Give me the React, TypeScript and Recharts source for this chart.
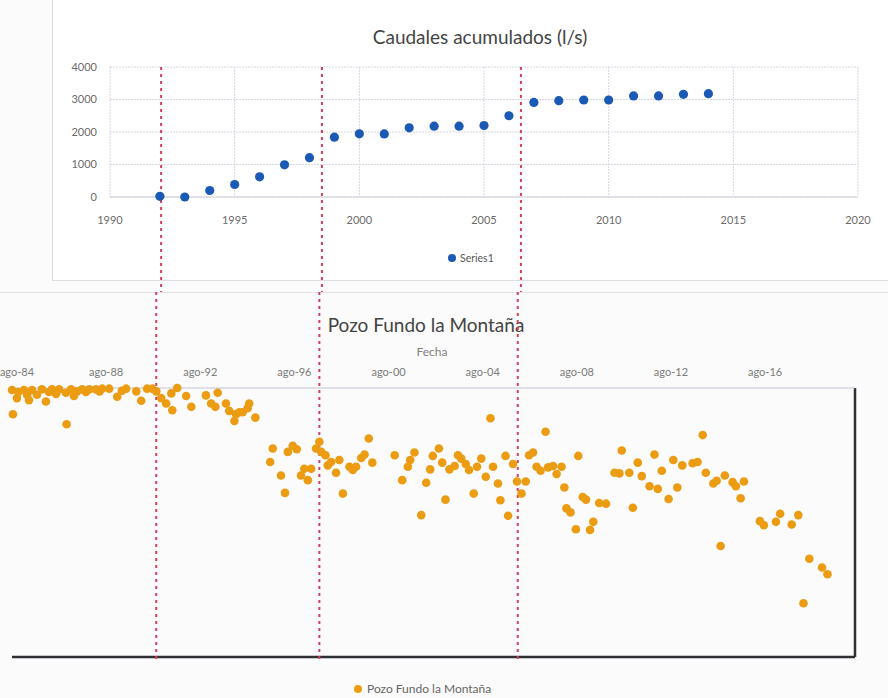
import React from 'react';
import { ScatterChart, Scatter, XAxis, YAxis, CartesianGrid, ReferenceLine } from 'recharts';

// Caudales acumulados (l/s)
const anios = [1992, 1993, 1994, 1995, 1996, 1997, 1998, 1999, 2000, 2001, 2002, 2003, 2004, 2005, 2006, 2007, 2008, 2009, 2010, 2011, 2012, 2013, 2014];
const caudales = [20, 0, 200, 385, 620, 990, 1210, 1840, 1945, 1940, 2130, 2180, 2180, 2200, 2500, 2910, 2965, 2985, 2985, 3110, 3110, 3160, 3180];
const aniosTicks = [1990, 1995, 2000, 2005, 2010, 2015, 2020];
const caudalTicks = [0, 1000, 2000, 3000, 4000];

// Pozo Fundo la Montaña (fecha en años decimales, nivel con eje invertido)
const fechasPozo = [
  1984.58, 1984.62, 1984.79, 1984.85, 1985.09, 1985.22, 1985.3, 1985.43, 1985.64, 1985.85,
  1986.02, 1986.15, 1986.28, 1986.45, 1986.58, 1986.87, 1986.9, 1987.09, 1987.21, 1987.35,
  1987.56, 1987.72, 1987.86, 1988.15, 1988.3, 1988.41, 1988.71, 1989.05, 1989.25, 1989.43,
  1989.86, 1990.07, 1990.32, 1990.54, 1990.71, 1990.92, 1991.13, 1991.35, 1991.39, 1991.6,
  1991.98, 1992.2, 1992.82, 1993.04, 1993.22, 1993.32, 1993.67, 1993.81, 1994.03, 1994.1,
  1994.24, 1994.38, 1994.59, 1994.66, 1994.92,
  1995.55, 1995.66, 1996.01, 1996.18, 1996.3, 1996.51, 1996.68, 1996.86, 1997.0, 1997.15,
  1997.29, 1997.5, 1997.64, 1997.72, 1997.9, 1998.0, 1998.14, 1998.35, 1998.49, 1998.64,
  1998.92, 1999.06, 1999.2, 1999.42, 1999.56, 1999.74, 1999.89,
  2000.84, 2001.16, 2001.4, 2001.5, 2001.68, 2001.97, 2002.18, 2002.35, 2002.46, 2002.72,
  2002.86, 2003.0, 2003.17, 2003.39, 2003.53, 2003.67, 2003.86, 2004.0, 2004.2, 2004.34,
  2004.52, 2004.71, 2004.91, 2005.02, 2005.23, 2005.33, 2005.55, 2005.66, 2005.87, 2006.04,
  2006.23, 2006.41, 2006.55, 2006.72, 2006.87, 2007.04, 2007.25, 2007.36, 2007.57, 2007.72,
  2007.93, 2008.05, 2008.14, 2008.31, 2008.54, 2008.64, 2008.83, 2008.97, 2009.14, 2009.28,
  2009.53, 2009.82, 2010.18, 2010.39, 2010.49, 2010.81, 2010.96, 2011.17, 2011.34, 2011.67,
  2011.88, 2012.02, 2012.19, 2012.48, 2012.68, 2012.85, 2013.06, 2013.5, 2013.71, 2013.93,
  2014.06, 2014.38, 2014.52, 2014.69, 2014.87, 2015.2, 2015.34, 2015.54, 2015.68, 2016.36,
  2016.53, 2017.04, 2017.22, 2017.71, 2017.99, 2018.21, 2018.46, 2019.0, 2019.23,
];
const nivelesPozo = [
  0.3, 3.9, 1.5, 0.6, 0.3, 1.0, 1.8, 0.3, 1.0, 0.2,
  2.0, 0.6, 0.2, 0.9, 0.2, 0.7, 5.4, 0.2, 1.2, 0.5,
  0.2, 0.6, 0.2, 0.2, 0.5, 0.1, 0.1, 1.3, 0.4, 0.1,
  0.5, 1.9, 0.1, 0.1, 0.5, 1.5, 2.3, 0.8, 3.3, 0.0,
  1.2, 2.8, 1.1, 2.3, 2.8, 0.7, 2.3, 3.4, 4.9, 3.9,
  3.6, 3.6, 3.0, 2.3, 4.4,
  11.0, 9.0, 13.0, 15.6, 9.5, 8.6, 9.1, 13.0, 12.0, 13.7,
  12.0, 9.0, 8.0, 9.5, 10.0, 11.5, 11.0, 12.6, 10.7, 15.7,
  11.7, 12.2, 11.7, 10.4, 9.9, 7.5, 11.1,
  10.0, 13.7, 11.7, 10.7, 9.6, 18.9, 14.1, 12.1, 10.1, 9.0,
  11.1, 16.6, 12.1, 11.6, 10.0, 10.5, 11.3, 12.2, 15.7, 11.7,
  10.5, 13.2, 4.5, 11.7, 14.2, 16.7, 10.1, 19.0, 11.3, 13.9,
  15.7, 13.9, 10.0, 9.6, 11.7, 12.3, 6.5, 11.8, 11.6, 12.8,
  11.7, 14.8, 17.9, 18.5, 21.0, 10.1, 16.2, 16.6, 21.1, 19.9,
  17.1, 17.2, 12.6, 12.7, 9.3, 12.6, 17.8, 11.1, 13.1, 14.6,
  9.9, 15.0, 12.3, 16.5, 10.7, 14.8, 11.5, 11.2, 11.0, 7.0,
  12.6, 14.2, 13.8, 23.5, 13.0, 14.0, 14.6, 16.4, 13.9, 19.8,
  20.4, 19.9, 18.7, 20.3, 18.9, 32.0, 25.4, 26.7, 27.7,
];
const fechaTicks = [1984.58, 1988.58, 1992.58, 1996.58, 2000.58, 2004.58, 2008.58, 2012.58, 2016.58];
const nivelTicks = [0, 10, 20, 30, 40];

// lineas rojas marcadas a mano sobre ambos graficos
const cortesCaudal = [1992.05, 1998.5, 2006.48];
const cortesPozo = [1990.71, 1997.64, 2006.07];

const caudalData = anios.map((anio, i) => ({ anio, caudal: caudales[i] }));
const pozoData = fechasPozo.map((fecha, i) => ({ fecha, nivel: nivelesPozo[i] }));

const fmtAgo = (t: number) => 'ago-' + String(Math.round(t - 0.58) % 100).padStart(2, '0');

const ROJO = '#d4405e';
const FONT = 'Lato, "Open Sans", sans-serif';

const BlueDot = (props: any) => <circle cx={props.cx} cy={props.cy} r={4.6} fill="#1a59b4" />;
const OrangeDot = (props: any) => <circle cx={props.cx} cy={props.cy} r={4.3} fill="#eb9c12" />;

// tick superior: el primero se corre un poco para que no quede cortado en el borde
const FechaTick = (props: any) => {
  const { x, y, payload } = props;
  return (
    <text x={Math.max(x, 17)} y={y} textAnchor="middle" fill="#7a7a7a" fontSize={11} fontFamily={FONT}>
      {fmtAgo(payload.value)}
    </text>
  );
};

export default function App() {
  return (
    <div
      style={{
        position: 'absolute',
        left: 0,
        top: 0,
        width: 888,
        height: 698,
        background: '#fbfbfb',
        fontFamily: FONT,
        overflow: 'hidden',
      }}
    >
      {/* marco del grafico superior */}
      <div style={{ position: 'absolute', left: 52, top: -2, width: 860, height: 282, borderLeft: '1px solid #dedede', borderBottom: '1px solid #dedede', background: '#ffffff' }} />
      <div style={{ position: 'absolute', left: 0, top: 292, width: 888, borderTop: '1px solid #e2e2e2' }} />

      <div style={{ position: 'absolute', left: 280, top: 25, width: 400, textAlign: 'center', fontSize: 19, color: '#444' }}>
        Caudales acumulados (l/s)
      </div>

      <div style={{ position: 'absolute', left: 0, top: 0 }}>
        <ScatterChart width={888} height={292} margin={{ top: 67, right: 30, bottom: 65, left: 0 }}>
          <CartesianGrid stroke="#d6d6e2" strokeDasharray="2 1" />
          <XAxis
            type="number"
            dataKey="anio"
            domain={[1990, 2020]}
            ticks={aniosTicks}
            interval={0}
            height={30}
            tickSize={0}
            tickMargin={19}
            axisLine={{ stroke: '#cfcfdb' }}
            tick={{ fill: '#6b6b6b', fontSize: 11, fontFamily: FONT }}
          />
          <YAxis
            type="number"
            dataKey="caudal"
            domain={[0, 4000]}
            ticks={caudalTicks}
            interval={0}
            width={110}
            tickSize={0}
            tickMargin={13}
            axisLine={false}
            tick={{ fill: '#6b6b6b', fontSize: 11, fontFamily: FONT }}
          />
          {cortesCaudal.map((x) => (
            <ReferenceLine
              key={x}
              x={x}
              ifOverflow="visible"
              shape={(p: any) => (
                <line x1={p.x1} x2={p.x2} y1={Math.min(p.y1, p.y2)} y2={292} stroke={ROJO} strokeWidth={2} strokeDasharray="3 4" />
              )}
            />
          ))}
          <Scatter data={caudalData} shape={<BlueDot />} isAnimationActive={false} />
        </ScatterChart>
      </div>

      <div style={{ position: 'absolute', left: 448, top: 252, display: 'flex', alignItems: 'center', fontSize: 10.5, color: '#555' }}>
        <span style={{ width: 8, height: 8, borderRadius: 4, background: '#1a59b4', marginRight: 4 }} />
        Series1
      </div>

      <div style={{ position: 'absolute', left: 226, top: 313, width: 400, textAlign: 'center', fontSize: 19, color: '#444' }}>
        Pozo Fundo la Montaña
      </div>
      <div style={{ position: 'absolute', left: 382, top: 344, width: 100, textAlign: 'center', fontSize: 12, color: '#808080' }}>
        Fecha
      </div>

      <div style={{ position: 'absolute', left: 0, top: 292 }}>
        <ScatterChart width={888} height={406} margin={{ top: 66, right: 33, bottom: 41, left: 12 }}>
          <CartesianGrid stroke="#d6d6e2" strokeDasharray="2 1" vertical={false} />
          <XAxis
            type="number"
            dataKey="fecha"
            orientation="top"
            domain={[1984.58, 2020.4]}
            ticks={fechaTicks}
            interval={0}
            height={30}
            tickSize={0}
            tickMargin={12}
            axisLine={{ stroke: '#cfcfdb' }}
            tick={<FechaTick />}
          />
          <YAxis
            type="number"
            dataKey="nivel"
            reversed
            domain={[0, 40]}
            ticks={nivelTicks}
            interval={0}
            width={0}
            tick={false}
            tickLine={false}
            axisLine={false}
          />
          <ReferenceLine y={40} stroke="#2f2f36" strokeWidth={2.5} ifOverflow="visible" />
          <ReferenceLine x={2020.4} stroke="#2f2f36" strokeWidth={2.5} ifOverflow="visible" />
          {cortesPozo.map((x) => (
            <ReferenceLine
              key={x}
              x={x}
              ifOverflow="visible"
              shape={(p: any) => (
                <line x1={p.x1} x2={p.x2} y1={0} y2={Math.max(p.y1, p.y2) + 6} stroke={ROJO} strokeWidth={2} strokeDasharray="3 4" />
              )}
            />
          ))}
          <Scatter data={pozoData} shape={<OrangeDot />} isAnimationActive={false} />
        </ScatterChart>
      </div>

      <div style={{ position: 'absolute', left: 354, top: 681, display: 'flex', alignItems: 'center', fontSize: 12, lineHeight: '16px', color: '#666' }}>
        <span style={{ width: 8, height: 8, borderRadius: 4, background: '#eb9c12', marginRight: 5 }} />
        Pozo Fundo la Montaña
      </div>
    </div>
  );
}
